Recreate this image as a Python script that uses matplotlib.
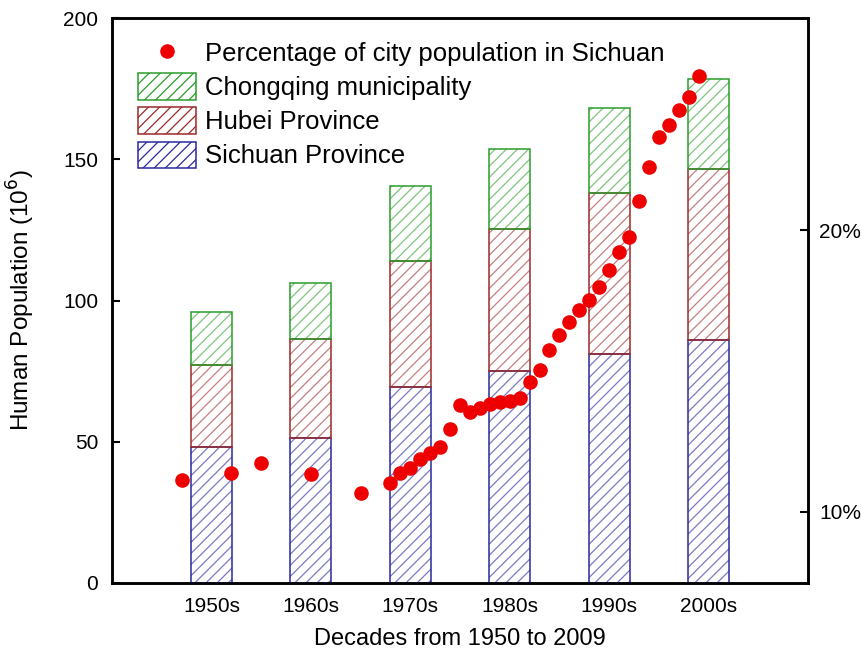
import matplotlib.pyplot as plt

plt.rcParams['font.family'] = ['Liberation Sans', 'DejaVu Sans']
plt.rcParams['hatch.linewidth'] = 0.9

decades = ['1950s', '1960s', '1970s', '1980s', '1990s', '2000s']
decade_mid = [1955, 1965, 1975, 1985, 1995, 2005]
sichuan = [48.0, 51.2, 69.3, 74.9, 81.0, 86.0]
hubei = [29.2, 35.2, 44.8, 50.4, 56.9, 60.5]
chongqing = [18.7, 19.8, 26.4, 28.3, 30.1, 31.8]

years = [1952, 1957, 1960, 1965, 1970] + list(range(1973, 2005))
pct = [11.13, 11.39, 11.73, 11.34, 10.66,
       11.04, 11.39, 11.57, 11.88, 12.08, 12.32, 12.94, 13.79, 13.56, 13.70,
       13.82, 13.91, 13.93, 14.05, 14.62, 15.05, 15.74, 16.28, 16.75, 17.16,
       17.52, 17.99, 18.58, 19.21, 19.76, 21.03, 22.24, 23.29, 23.72, 24.26,
       24.73, 25.46]

fig = plt.figure(figsize=(8.61, 6.53), dpi=100)
ax = fig.add_axes([0.130, 0.1072, 0.8085, 0.8652])

w = 4.1
bottom2 = [a + b for a, b in zip(sichuan, hubei)]
layers = [(sichuan, [0] * 6, '#2a2a9c', '#7a7ac4', 'Sichuan Province'),
          (hubei, sichuan, '#9c2a2a', '#c48080', 'Hubei Province'),
          (chongqing, bottom2, '#2a9c2a', '#80c480', 'Chongqing municipality')]
handles = {}
for vals, bot, dark, light, name in layers:
    ax.bar(decade_mid, vals, w, bottom=bot, color='white', edgecolor=light,
           hatch='///', linewidth=0, zorder=2)
    ax.bar(decade_mid, vals, w, bottom=bot, fill=False, edgecolor=dark,
           linewidth=1.1, zorder=3)
    h = plt.Rectangle((0, 0), 1, 1, facecolor='white', edgecolor=dark,
                      hatch='///', linewidth=1.1)
    handles[name] = h

ax.set_xlim(1945, 2015)
ax.set_ylim(0, 200)
ax.set_yticks([0, 50, 100, 150, 200])
ax.set_xticks(decade_mid)
ax.set_xticklabels(decades)
ax.tick_params(axis='y', direction='in', length=6, width=1.5, labelsize=15, pad=10)
ax.tick_params(axis='x', length=0, labelsize=15, pad=10)
ax.set_xlabel('Decades from 1950 to 2009', fontsize=17)
ax.xaxis.set_label_coords(0.5, -0.08)
ax.set_ylabel('Human Population (10$^6$)', fontsize=17.5)
ax.yaxis.set_label_coords(-0.108, 0.5)
for s in ax.spines.values():
    s.set_linewidth(1.8)

ax2 = ax.twinx()
dots = ax2.scatter(years, pct, s=90, color='#ee0000', zorder=5)
ax2.set_ylim(7.48, 27.52)
ax2.set_yticks([10, 20])
ax2.set_yticklabels(['10%', '20%'])
ax2.tick_params(axis='y', direction='in', length=6, width=1.5, labelsize=15, pad=8)
for s in ax2.spines.values():
    s.set_linewidth(1.8)

ax2.legend([dots, handles['Chongqing municipality'], handles['Hubei Province'],
            handles['Sichuan Province']],
           ['Percentage of city population in Sichuan', 'Chongqing municipality',
            'Hubei Province', 'Sichuan Province'],
           loc='upper left', bbox_to_anchor=(0.012, 0.994), frameon=False,
           fontsize=18.5, handlelength=2.25, handleheight=1.2, handletextpad=0.35,
           labelspacing=0.28, borderpad=0.2)

fig.savefig('out.png', dpi=100)
